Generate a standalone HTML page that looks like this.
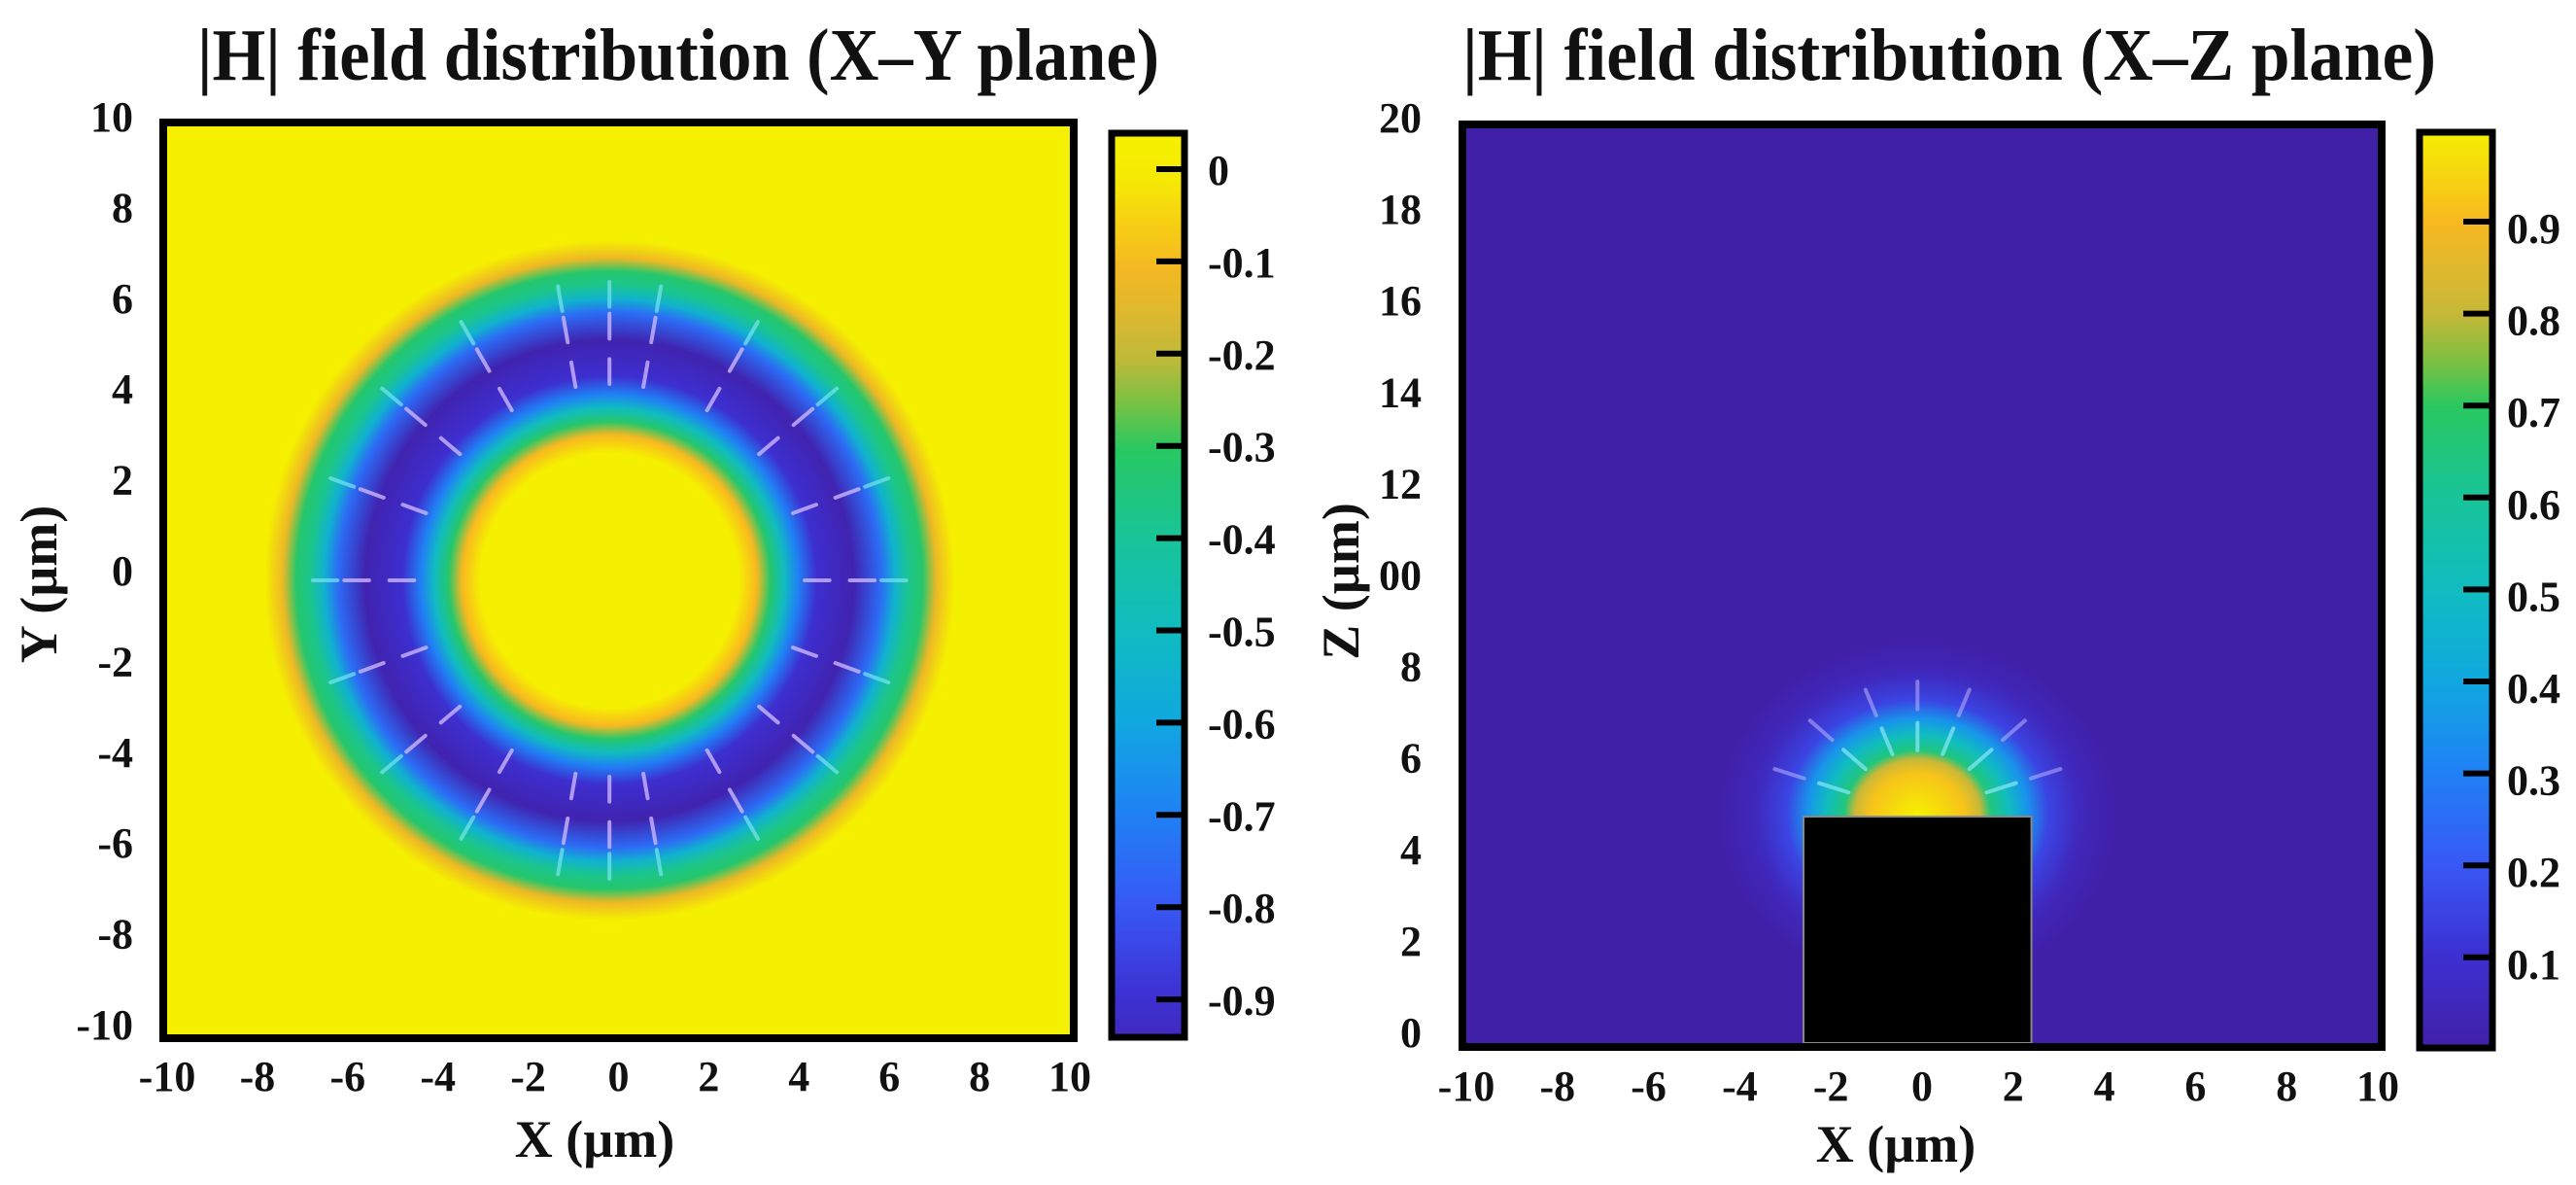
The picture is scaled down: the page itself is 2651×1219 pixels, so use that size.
<!DOCTYPE html>
<html><head><meta charset="utf-8">
<style>
html,body{margin:0;padding:0;background:#fff;overflow:hidden;width:2651px;height:1219px;}
svg{display:block;}
text{font-family:"Liberation Serif","Times New Roman",serif;font-weight:bold;fill:#111;}
</style></head>
<body>
<svg id="fig" width="2651" height="1219" viewBox="0 0 2651 1219" xmlns="http://www.w3.org/2000/svg" overflow="hidden">
<defs>
<clipPath id="clipL"><rect x="172" y="130" width="929" height="934"/></clipPath>
<clipPath id="clipR"><rect x="1509" y="132" width="938" height="941"/></clipPath>
</defs>
<text x="203" y="82" font-size="76" textLength="990" lengthAdjust="spacingAndGlyphs">|H| field distribution (X–Y plane)</text>
<text x="1505" y="82" font-size="76" textLength="1002" lengthAdjust="spacingAndGlyphs">|H| field distribution (X–Z plane)</text>
<g id="left"></g>
<g id="right"></g>
<text x="612" y="1190" font-size="54" text-anchor="middle">X (µm)</text>
<text transform="translate(58,601) rotate(-90)" font-size="54" text-anchor="middle">Y (µm)</text>
<text x="1951" y="1195" font-size="54" text-anchor="middle">X (µm)</text>
<text transform="translate(1398,598) rotate(-90)" font-size="54" text-anchor="middle">Z (µm)</text>
</svg>
<script>
// ---- data ----
const xTicks = [-10,-8,-6,-4,-2,0,2,4,6,8,10];
const leftYTicks = [10,8,6,4,2,0,-2,-4,-6,-8,-10];
const rightZTicks = [20,18,16,14,12,10,8,6,4,2,0];
const rightZTickLabels = ["20","18","16","14","12","00","8","6","4","2","0"];
const leftCbTicks = [0,-0.1,-0.2,-0.3,-0.4,-0.5,-0.6,-0.7,-0.8,-0.9];
const leftCbLabels = ["0","-0.1","-0.2","-0.3","-0.4","-0.5","-0.6","-0.7","-0.8","-0.9"];
const rightCbTicks = [0.9,0.8,0.7,0.6,0.5,0.4,0.3,0.2,0.1];
const rightCbLabels = ["0.9","0.8","0.7","0.6","0.5","0.4","0.3","0.2","0.1"];
// ring field profile (XY plane): radius (µm) -> normalized |H| (0 = min, 1 = max)
const ringCenter = [-0.2, 0];
const ringRadii  = [0, 2.8, 3.2, 3.5, 3.8, 4.1, 4.5, 5.3, 5.9, 6.2, 6.5, 6.8, 7.1, 7.5, 11];
const ringValues = [1, 1, 0.9, 0.68, 0.5, 0.3, 0.1, 0.02, 0.25, 0.45, 0.62, 0.68, 0.88, 1, 1];
// hotspot profile (XZ plane)
const spotCenter = [-0.1, 5.0];
const spotRadii  = [0, 0.9, 1.2, 1.4, 1.75, 2.1, 2.5, 3.1, 3.8];
const spotValues = [1, 0.92, 0.8, 0.65, 0.5, 0.35, 0.15, 0.05, 0];
const waveguide = {x0:-2.6, x1:2.4, z0:0, z1:4.95};
// arrows
const ringArrowAngles = [0,20,40,60,80,90,100,120,140,160,180,200,220,240,260,270,280,300,320,340];
const ringArrowRadii = [4.6, 5.6, 6.3];
const spotArrowAngles = [20,45,70,90,110,135,160];

// ---- colormap ----
const cmap = [[0,[65,32,168]],[0.1,[61,47,208]],[0.2,[56,88,245]],[0.3,[32,128,245]],[0.4,[16,168,224]],[0.5,[16,188,192]],[0.6,[24,196,152]],[0.7,[40,200,96]],[0.75,[128,192,64]],[0.8,[200,184,56]],[0.9,[248,184,32]],[1,[245,240,0]]];
function col(t){t=Math.max(0,Math.min(1,t));for(let i=1;i<cmap.length;i++){if(t<=cmap[i][0]){const a=cmap[i-1],b=cmap[i];const f=(t-a[0])/(b[0]-a[0]);return 'rgb('+a[1].map((c,k)=>Math.round(c+(b[1][k]-c)*f)).join(',')+')';}}return 'rgb(245,240,0)';}
const NS='http://www.w3.org/2000/svg';
function mk(tag,attrs,parent){const e=document.createElementNS(NS,tag);for(const k in attrs)e.setAttribute(k,attrs[k]);parent.appendChild(e);return e;}
const svg=document.getElementById('fig');
const defs=svg.querySelector('defs');

// ---- axes ----
const L={x0:172,x1:1101,y0:1064,y1:130};
const lx=v=>L.x0+(v+10)/20*(L.x1-L.x0);
const ly=v=>L.y0+(v+10)/20*(L.y1-L.y0);
const R={x0:1509,x1:2447,y0:1073,y1:132};
const rx=v=>R.x0+(v+10)/20*(R.x1-R.x0);
const rz=v=>R.y0+v/20*(R.y1-R.y0);

// ---- left plot ----
const gl=document.getElementById('left');
mk('rect',{x:L.x0,y:L.y1,width:L.x1-L.x0,height:L.y0-L.y1,fill:col(1)},gl);
const rmax=ringRadii[ringRadii.length-1];
const gradL=mk('radialGradient',{id:'gradL',cx:'0.5',cy:'0.5',r:'0.5'},defs);
ringRadii.forEach((r,i)=>{mk('stop',{offset:(r/rmax).toFixed(4),'stop-color':col(ringValues[i])},gradL);});
const pxU=(L.x1-L.x0)/20, pyU=(L.y0-L.y1)/20;
const gclip=mk('g',{'clip-path':'url(#clipL)'},gl);
const ring=mk('ellipse',{cx:lx(ringCenter[0]),cy:ly(ringCenter[1]),rx:rmax*pxU*1.02,ry:rmax*pyU,fill:'url(#gradL)'},gclip);


ringArrowRadii.forEach((rr,j)=>{ringArrowAngles.forEach(a=>{
  const th=a*Math.PI/180, len=0.55;
  const xa=ringCenter[0]+Math.cos(th)*(rr-len/2), ya=ringCenter[1]+Math.sin(th)*(rr-len/2);
  const xb=ringCenter[0]+Math.cos(th)*(rr+len/2), yb=ringCenter[1]+Math.sin(th)*(rr+len/2);
  const ln=mk('line',{x1:lx(xa),y1:ly(ya),x2:lx(xb),y2:ly(yb),stroke:j===2?'rgba(120,230,240,0.7)':'rgba(215,190,255,0.75)','stroke-width':4,'stroke-linecap':'round'},gclip);
  
  
});});
mk('rect',{x:168,y:126,width:937,height:942,fill:'none',stroke:'#000','stroke-width':8},gl);
xTicks.forEach(v=>{const t=mk('text',{x:lx(v),y:1122,'font-size':44,'text-anchor':'middle'},gl);t.textContent=v;
  
  });
leftYTicks.forEach(v=>{const t=mk('text',{x:137,y:ly(v)+5,'font-size':44,'text-anchor':'end'},gl);t.textContent=v;
  
  });
// left colorbar
const cbL={x:1144,w:75,top:137,bot:1067};
const cbLy=v=>174+(-v)/0.1*94.9;
const gradCL=mk('linearGradient',{id:'gradCL',x1:'0',y1:'0',x2:'0',y2:'1'},defs);
for(let i=0;i<=20;i++){const y=cbL.top+(cbL.bot-cbL.top)*i/20;const v=-(y-174)/94.9*0.1;mk('stop',{offset:i/20,'stop-color':col(1+v)},gradCL);}
const cbl=mk('rect',{x:cbL.x,y:cbL.top,width:cbL.w,height:cbL.bot-cbL.top,fill:'url(#gradCL)',stroke:'#000','stroke-width':7},gl);


leftCbTicks.forEach((v,i)=>{const y=cbLy(v);mk('line',{x1:1190,y1:y,x2:1218,y2:y,stroke:'#000','stroke-width':6},gl);
  const t=mk('text',{x:1243,y:y+16,'font-size':44},gl);t.textContent=leftCbLabels[i];
  
  });

// ---- right plot ----
const gr=document.getElementById('right');
const gclipR=mk('g',{'clip-path':'url(#clipR)'},gr);
mk('rect',{x:R.x0,y:R.y1,width:R.x1-R.x0,height:R.y0-R.y1,fill:col(0)},gclipR);
const smax=spotRadii[spotRadii.length-1];
const gradR=mk('radialGradient',{id:'gradR',cx:'0.5',cy:'0.5',r:'0.5'},defs);
spotRadii.forEach((r,i)=>{mk('stop',{offset:(r/smax).toFixed(4),'stop-color':col(spotValues[i])},gradR);});
const rpx=(R.x1-R.x0)/20, rpz=(R.y0-R.y1)/20;
const spot=mk('ellipse',{cx:rx(spotCenter[0]),cy:rz(spotCenter[1]),rx:smax*rpx*1.15,ry:smax*rpz,fill:'url(#gradR)'},gclipR);


spotArrowAngles.forEach(a=>{[1.7,2.6].forEach((rr,j)=>{
  const th=a*Math.PI/180,len=0.6;
  const ln=mk('line',{x1:rx(spotCenter[0]+Math.cos(th)*(rr-len/2)*1.15),y1:rz(spotCenter[1]+Math.sin(th)*(rr-len/2)),x2:rx(spotCenter[0]+Math.cos(th)*(rr+len/2)*1.15),y2:rz(spotCenter[1]+Math.sin(th)*(rr+len/2)),stroke:j?'rgba(200,190,255,0.5)':'rgba(130,230,245,0.75)','stroke-width':4,'stroke-linecap':'round'},gclipR);
  
  
});});
const wg=mk('rect',{x:rx(waveguide.x0),y:rz(waveguide.z1),width:rx(waveguide.x1)-rx(waveguide.x0),height:rz(waveguide.z0)-rz(waveguide.z1),fill:'#000',stroke:'#888','stroke-width':2},gclipR);


mk('rect',{x:1505,y:128,width:946,height:949,fill:'none',stroke:'#000','stroke-width':8},gr);
xTicks.forEach(v=>{const t=mk('text',{x:rx(v),y:1132,'font-size':44,'text-anchor':'middle'},gr);t.textContent=v;
  
  });
rightZTicks.forEach((v,i)=>{const t=mk('text',{x:1463,y:rz(v)+4,'font-size':44,'text-anchor':'end'},gr);t.textContent=rightZTickLabels[i];
  
  });
const cbR={x:2490,w:75,top:136,bot:1078};
const cbRy=v=>228+(0.9-v)/0.1*94.6;
const gradCR=mk('linearGradient',{id:'gradCR',x1:'0',y1:'0',x2:'0',y2:'1'},defs);
for(let i=0;i<=20;i++){const y=cbR.top+(cbR.bot-cbR.top)*i/20;const v=0.9-(y-228)/94.6*0.1;mk('stop',{offset:i/20,'stop-color':col(v)},gradCR);}
const cbr=mk('rect',{x:cbR.x,y:cbR.top,width:cbR.w,height:cbR.bot-cbR.top,fill:'url(#gradCR)',stroke:'#000','stroke-width':7},gr);


rightCbTicks.forEach((v,i)=>{const y=cbRy(v);mk('line',{x1:2535,y1:y,x2:2566,y2:y,stroke:'#000','stroke-width':6},gr);
  const t=mk('text',{x:2580,y:y+22,'font-size':44},gr);t.textContent=rightCbLabels[i];
  
  });
</script>
</body></html>
